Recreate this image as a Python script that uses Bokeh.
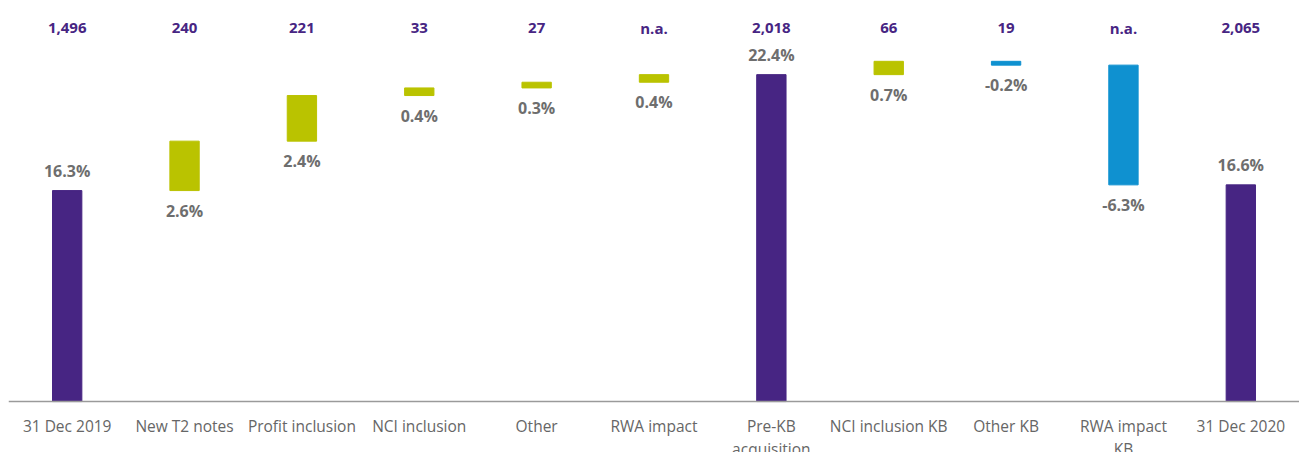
from bokeh.plotting import figure
from bokeh.models import ColumnDataSource, Range1d, FactorRange
from bokeh.core.properties import value
from bokeh.embed import file_html
from bokeh.resources import INLINE

categories = ["31 Dec 2019", "New T2 notes", "Profit inclusion", "NCI inclusion", "Other",
              "RWA impact", "Pre-KB\nacquisition", "NCI inclusion KB", "Other KB",
              "RWA impact\nKB", "31 Dec 2020"]
pct_values = [16.3, 2.6, 2.4, 0.4, 0.3, 0.4, 22.4, 0.7, -0.2, -6.3, 16.6]
is_total = [True, False, False, False, False, False, True, False, False, False, True]
amount_labels = ["1,496", "240", "221", "33", "27", "n.a.", "2,018", "66", "19", "n.a.", "2,065"]

PURPLE = "#472583"
LIME = "#bac300"
BLUE = "#0f91d0"
GREY_TXT = "#6e6e6e"

BASE = 5.2          # value where the bars start (axis position)
Y_LO, Y_HI = 2.52, 26.3

bottoms, tops, colors, lab_y, lab_off = [], [], [], [], []
running = 0.0
for v, tot in zip(pct_values, is_total):
    if tot:
        running = v
        bottoms.append(BASE)
        tops.append(v)
        colors.append(PURPLE)
        lab_y.append(v)
        lab_off.append(-20)
    else:
        b = running
        running = round(running + v, 2)
        lo, hi = min(b, running), max(b, running)
        bottoms.append(lo)
        tops.append(hi)
        colors.append(LIME if v >= 0 else BLUE)
        lab_y.append(lo)
        lab_off.append(20)

src = ColumnDataSource(dict(
    cat=categories, bottom=bottoms, top=tops, color=colors,
    lab_y=lab_y, lab_off=lab_off,
    pct_text=[f"{v:.1f}%" for v in pct_values],
    amt=amount_labels, amt_y=[24.84] * len(categories),
))

p = figure(x_range=FactorRange(*categories), y_range=Range1d(Y_LO, Y_HI),
           width=1299, height=452, output_backend="svg", toolbar_location=None,
           min_border_left=8, min_border_right=0, min_border_top=0, min_border_bottom=0)
p.outline_line_color = None
p.grid.visible = False
p.yaxis.visible = False
p.x_range.range_padding = 0.0

p.vbar(x="cat", bottom="bottom", top="top", width=0.25, color="color", source=src)

p.text(x="cat", y="lab_y", text="pct_text", y_offset="lab_off", source=src,
       text_align="center", text_baseline="middle", text_color=GREY_TXT,
       text_font=value("Open Sans"), text_font_style="bold", text_font_size="16px")
p.text(x="cat", y="amt_y", text="amt", source=src,
       text_align="center", text_baseline="middle", text_color=PURPLE,
       text_font=value("Open Sans"), text_font_style="bold", text_font_size="15px")

ax = p.xaxis[0]
ax.fixed_location = BASE
ax.axis_line_color = "#9a9a9a"
ax.axis_line_width = 1.5
ax.major_tick_line_color = None
ax.minor_tick_line_color = None
ax.major_tick_out = 0
ax.major_label_standoff = 13
ax.major_label_text_font = "Open Sans"
ax.major_label_text_font_size = "15.5px"
ax.major_label_text_color = "#666666"
ax.major_label_text_line_height = 1.05

open("out.html", "w").write(file_html(p, INLINE))
